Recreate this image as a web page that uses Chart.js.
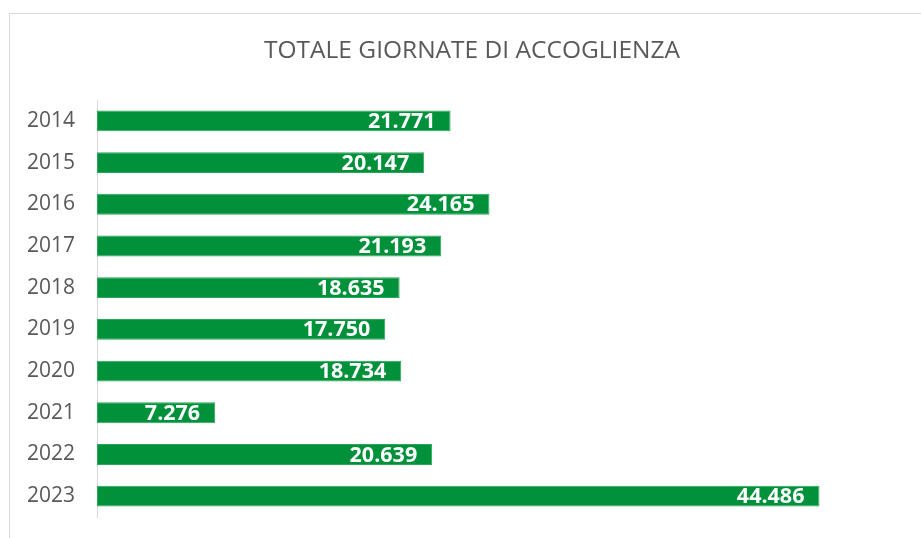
<!DOCTYPE html>
<html>
<head>
<meta charset="utf-8">
<script src="https://cdn.jsdelivr.net/npm/chart.js@4"></script>
<style>
    html, body { margin: 0; padding: 0; background: #ffffff; overflow: hidden; }
    #wrap { position: relative; width: 921px; height: 538px; }
    #frame { position: absolute; left: 9px; top: 13px; width: 940px; height: 560px; border: 1px solid #d9d9d9; }
    canvas { position: absolute; left: 0; top: 0; }
</style>
</head>
<body>
<div id="wrap">
    <div id="frame"></div>
    <canvas id="giornateChart" width="921" height="538"></canvas>
</div>
<script>
const years = ["2014", "2015", "2016", "2017", "2018", "2019", "2020", "2021", "2022", "2023"];
const giornate = [21771, 20147, 24165, 21193, 18635, 17750, 18734, 7276, 20639, 44486];
const titleText = "TOTALE GIORNATE DI ACCOGLIENZA";

const fmt = (v) => v.toLocaleString("it-IT");

// white value labels inside the end of each bar, plus the title (Excel centres it off the plot)
const barLabels = {
    id: "barLabels",
    afterDatasetsDraw(chart)
    {
        const { ctx } = chart;
        const meta = chart.getDatasetMeta(0);
        ctx.save();
        ctx.font = "bold 21.5px 'Open Sans'";
        ctx.fillStyle = "#ffffff";
        ctx.textAlign = "right";
        ctx.textBaseline = "middle";
        meta.data.forEach((bar, i) =>
        {
            ctx.fillText(fmt(chart.data.datasets[0].data[i]), bar.x - 15, bar.y + 1);
        });

        ctx.font = "24.5px 'Open Sans'";
        ctx.fillStyle = "#595959";
        ctx.textAlign = "center";
        ctx.fillText(titleText, 472, 51);
        ctx.restore();
    }
};

new Chart(document.getElementById("giornateChart"), {
    type: "bar",
    data: {
        labels: years,
        datasets: [{
            data: giornate,
            backgroundColor: "#00913a",
            borderColor: "#2aa85a",
            borderWidth: 1,
            borderSkipped: false,
            categoryPercentage: 1,
            barPercentage: 0.5
        }]
    },
    options: {
        indexAxis: "y",
        responsive: false,
        animation: false,
        layout: { padding: { left: 0, right: 12, top: 100, bottom: 21 } },
        plugins: {
            legend: { display: false },
            tooltip: { enabled: false },
            title: { display: false }
        },
        scales: {
            x: {
                display: false,
                min: 0,
                max: 50000
            },
            y: {
                afterFit(scale)
                {
                    scale.width = 97;
                    scale.paddingTop = 0;
                    scale.paddingBottom = 0;
                },
                grid: { display: false, drawTicks: false },
                border: { display: true, color: "#d9d9d9", width: 1 },
                ticks: {
                    color: "#595959",
                    padding: 22,
                    font: { family: "'Open Sans'", size: 21 }
                }
            }
        }
    },
    plugins: [barLabels]
});
</script>
</body>
</html>
